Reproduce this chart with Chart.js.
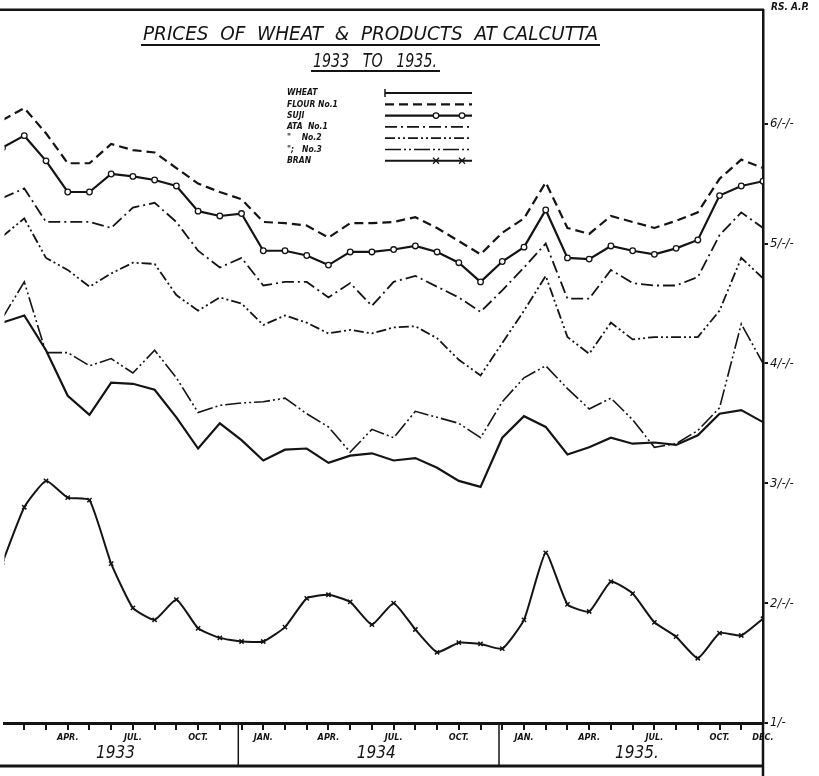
<!DOCTYPE html>
<html>
<head>
<meta charset="utf-8">
<title>Prices of Wheat &amp; Products at Calcutta</title>
<script src="https://cdn.jsdelivr.net/npm/chart.js@4.4.1/dist/chart.umd.min.js"></script>
<style>
  html, body { margin: 0; padding: 0; background: #fff; }
  #wrap { width: 819px; height: 776px; }
</style>
</head>
<body>
<div id="wrap"><canvas id="chart" width="819" height="776"></canvas></div>
<script>
// months Jan 1933 .. Dec 1935, prices in rupees
const MONTHS = [
    'JAN 1933', 'FEB 1933', 'MAR 1933', 'APR 1933', 'MAY 1933', 'JUN 1933',
    'JUL 1933', 'AUG 1933', 'SEP 1933', 'OCT 1933', 'NOV 1933', 'DEC 1933',
    'JAN 1934', 'FEB 1934', 'MAR 1934', 'APR 1934', 'MAY 1934', 'JUN 1934',
    'JUL 1934', 'AUG 1934', 'SEP 1934', 'OCT 1934', 'NOV 1934', 'DEC 1934',
    'JAN 1935', 'FEB 1935', 'MAR 1935', 'APR 1935', 'MAY 1935', 'JUN 1935',
    'JUL 1935', 'AUG 1935', 'SEP 1935', 'OCT 1935', 'NOV 1935', 'DEC 1935'
];
const TICK_LABELS = [
    '', '', '', 'APR.', '', '', 'JUL.', '', '', 'OCT.', '', '',
    'JAN.', '', '', 'APR.', '', '', 'JUL.', '', '', 'OCT.', '', '',
    'JAN.', '', '', 'APR.', '', '', 'JUL.', '', '', 'OCT.', '', 'DEC.'
];
const YEARS = ['1933', '1934', '1935.'];
const Y_VALUES = [1, 2, 3, 4, 5, 6];
const Y_LABELS = ['1/-', '2/-/-', '3/-/-', '4/-/-', '5/-/-', '6/-/-'];

const WHEAT = [4.34, 4.40, 4.11, 3.73, 3.57, 3.84, 3.83, 3.78, 3.55, 3.29, 3.50, 3.36,
               3.19, 3.28, 3.29, 3.17, 3.23, 3.25, 3.19, 3.21, 3.13, 3.02, 2.97, 3.38,
               3.56, 3.47, 3.24, 3.30, 3.38, 3.33, 3.34, 3.32, 3.40, 3.58, 3.61, 3.51];
const FLOUR_NO1 = [6.03, 6.13, 5.92, 5.67, 5.67, 5.83, 5.78, 5.76, 5.63, 5.50, 5.43, 5.37,
                   5.18, 5.17, 5.15, 5.05, 5.17, 5.17, 5.18, 5.22, 5.13, 5.02, 4.91, 5.09,
                   5.21, 5.51, 5.13, 5.08, 5.23, 5.18, 5.13, 5.19, 5.26, 5.54, 5.70, 5.63];
const SUJI = [5.80, 5.90, 5.69, 5.43, 5.43, 5.58, 5.56, 5.53, 5.48, 5.27, 5.23, 5.25,
              4.94, 4.94, 4.90, 4.82, 4.93, 4.93, 4.95, 4.98, 4.93, 4.84, 4.68, 4.85,
              4.97, 5.28, 4.88, 4.87, 4.98, 4.94, 4.91, 4.96, 5.03, 5.40, 5.48, 5.52];
const ATA_NO1 = [5.38, 5.46, 5.18, 5.18, 5.18, 5.13, 5.30, 5.34, 5.18, 4.94, 4.80, 4.88,
                 4.65, 4.68, 4.68, 4.55, 4.67, 4.48, 4.68, 4.73, 4.64, 4.55, 4.43, 4.61,
                 4.80, 5.00, 4.54, 4.54, 4.78, 4.67, 4.65, 4.65, 4.72, 5.07, 5.26, 5.13];
const ATA_NO2 = [5.06, 5.21, 4.88, 4.78, 4.64, 4.75, 4.84, 4.83, 4.57, 4.44, 4.55, 4.50,
                 4.32, 4.40, 4.34, 4.25, 4.28, 4.25, 4.30, 4.31, 4.21, 4.03, 3.90, 4.17,
                 4.44, 4.73, 4.22, 4.08, 4.34, 4.20, 4.22, 4.22, 4.22, 4.44, 4.88, 4.71];
const ATA_NO3 = [4.38, 4.68, 4.09, 4.09, 3.98, 4.04, 3.92, 4.11, 3.88, 3.59, 3.65, 3.67,
                 3.68, 3.71, 3.58, 3.47, 3.26, 3.45, 3.38, 3.60, 3.55, 3.50, 3.38, 3.68,
                 3.88, 3.98, 3.79, 3.62, 3.71, 3.53, 3.30, 3.33, 3.44, 3.63, 4.33, 4.00];
const BRAN = [2.34, 2.80, 3.02, 2.88, 2.86, 2.33, 1.96, 1.86, 2.03, 1.79, 1.71, 1.68,
              1.68, 1.80, 2.04, 2.07, 2.01, 1.82, 2.00, 1.78, 1.59, 1.67, 1.66, 1.62,
              1.86, 2.42, 1.99, 1.93, 2.18, 2.08, 1.84, 1.72, 1.54, 1.75, 1.73, 1.87];

const LEGEND_TEXT = ['WHEAT', 'FLOUR No.1', 'SUJI', 'ATA  No.1', '"    No.2', '";   No.3', 'BRAN'];

const INK = '#141414';
const FONT = "'DejaVu Sans Condensed', 'Liberation Sans Narrow', 'DejaVu Sans', sans-serif";

Chart.defaults.font.family = FONT;
Chart.defaults.color = INK;

function points(values) {
    return values.map((v, i) => ({ x: i, y: v }));
}

function seg(ctx, x1, y1, x2, y2) {
    ctx.beginPath();
    ctx.moveTo(x1, y1);
    ctx.lineTo(x2, y2);
    ctx.stroke();
}

// draw text squeezed/stretched to a given width
function fitText(ctx, text, x, y, width, font) {
    ctx.font = font;
    const w = ctx.measureText(text).width;
    ctx.save();
    ctx.translate(x, y);
    ctx.scale(width / w, 1);
    ctx.textAlign = 'left';
    ctx.textBaseline = 'alphabetic';
    ctx.fillText(text, 0, 0);
    ctx.restore();
}

function marker(ctx, style, x, y) {
    ctx.save();
    ctx.setLineDash([]);
    ctx.lineWidth = 1.3;
    if (style === 'circle') {
        ctx.fillStyle = '#fff';
        ctx.beginPath();
        ctx.arc(x, y, 2.8, 0, Math.PI * 2);
        ctx.fill();
        ctx.stroke();
    } else if (style === 'crossRot') {
        seg(ctx, x - 3, y - 3, x + 3, y + 3);
        seg(ctx, x - 3, y + 3, x + 3, y - 3);
    }
    ctx.restore();
}

const paperPlugin = {
    id: 'paper',
    beforeDraw(chart) {
        const { ctx, width, height } = chart;
        ctx.save();
        ctx.fillStyle = '#fff';
        ctx.fillRect(0, 0, width, height);
        ctx.restore();
    },
    afterDraw(chart) {
        const { ctx, chartArea: area, scales: { x } } = chart;
        ctx.save();
        ctx.strokeStyle = INK;
        ctx.fillStyle = INK;

        // frame
        ctx.lineWidth = 2.5;
        seg(ctx, 0, area.top, area.right + 1, area.top);
        ctx.lineWidth = 2.5;
        seg(ctx, area.right, area.bottom, area.right, chart.height);
        ctx.lineWidth = 3;
        seg(ctx, 0, 766, area.right, 766);

        // year separators and year names
        ctx.lineWidth = 1.5;
        YEARS.forEach((yr, k) => {
            if (k < YEARS.length - 1) {
                const sx = x.getPixelForValue(12 * k + 10.85);
                seg(ctx, sx, area.bottom, sx, 766);
            }
            const cx = x.getPixelForValue(12 * k + 5.2);
            ctx.font = 'italic 17px ' + FONT;
            ctx.textAlign = 'center';
            ctx.textBaseline = 'alphabetic';
            ctx.fillText(yr, cx, 758);
        });

        // currency unit
        ctx.font = 'italic bold 10px ' + FONT;
        ctx.textAlign = 'left';
        ctx.fillText('RS. A.P.', 771, 10);

        // title
        fitText(ctx, 'PRICES  OF  WHEAT  &  PRODUCTS  AT CALCUTTA', 143, 40, 455, 'italic 20px ' + FONT);
        ctx.lineWidth = 2;
        seg(ctx, 141, 45, 600, 45);
        fitText(ctx, '1933   TO   1935.', 313, 67, 124, 'italic 19px ' + FONT);
        seg(ctx, 311, 71, 440, 71);

        // key
        chart.data.datasets.forEach((ds, i) => {
            const y = 93 + i * 11.3;
            ctx.font = 'italic bold 8.5px ' + FONT;
            ctx.textAlign = 'left';
            ctx.textBaseline = 'middle';
            ctx.fillText(LEGEND_TEXT[i], 287, y);
            ctx.save();
            ctx.lineWidth = ds.borderWidth;
            ctx.setLineDash(ds.borderDash || []);
            seg(ctx, 385, y, 472, y);
            ctx.restore();
            if (ds.pointRadius > 0) {
                marker(ctx, ds.pointStyle, 436, y);
                marker(ctx, ds.pointStyle, 462, y);
            }
        });
        ctx.lineWidth = 1.5;
        seg(ctx, 385, 89, 385, 97);

        ctx.restore();
    }
};

const lineBase = {
    borderColor: INK,
    backgroundColor: INK,
    fill: false,
    tension: 0,
    pointRadius: 0,
    pointHoverRadius: 0,
    borderWidth: 1.8
};

const datasets = [
    { ...lineBase, label: 'WHEAT', data: points(WHEAT), borderWidth: 2.2 },
    { ...lineBase, label: 'FLOUR No.1', data: points(FLOUR_NO1), borderWidth: 2.2, borderDash: [9, 5] },
    { ...lineBase, label: 'SUJI', data: points(SUJI), borderWidth: 2.2,
      pointRadius: 2.8, pointStyle: 'circle', pointBackgroundColor: '#fff', pointBorderWidth: 1.3 },
    { ...lineBase, label: 'ATA No.1', data: points(ATA_NO1), borderDash: [12, 4, 2, 4] },
    { ...lineBase, label: 'ATA No.2', data: points(ATA_NO2), borderDash: [10, 3, 2, 3, 2, 3] },
    { ...lineBase, label: 'ATA No.3', data: points(ATA_NO3), borderWidth: 1.6, borderDash: [16, 3, 2, 3, 2, 3] },
    { ...lineBase, label: 'BRAN', data: points(BRAN), borderWidth: 2, tension: 0.15,
      pointRadius: 3, pointStyle: 'crossRot', pointBorderWidth: 1.5 }
];

new Chart(document.getElementById('chart'), {
    type: 'line',
    data: { labels: MONTHS, datasets },
    options: {
        responsive: false,
        animation: false,
        devicePixelRatio: 1,
        layout: { padding: { top: 8, left: 0, right: 0, bottom: 0 } },
        plugins: {
            legend: { display: false },
            title: { display: false },
            tooltip: { enabled: false }
        },
        scales: {
            x: {
                type: 'linear',
                min: 0.09,
                max: MONTHS.length - 1,
                afterBuildTicks: (s) => {
                    s.ticks = MONTHS.map((_, i) => ({ value: i })).filter(t => t.value >= 1);
                },
                afterFit: (s) => { s.height = 53; },
                grid: { display: true, drawOnChartArea: false, drawTicks: true, tickLength: 7, color: INK, lineWidth: 2 },
                border: { display: true, color: INK, width: 3 },
                ticks: {
                    autoSkip: false,
                    maxRotation: 0,
                    padding: 2,
                    color: INK,
                    font: { size: 9, style: 'italic', weight: 'bold' },
                    callback: (v) => TICK_LABELS[v] || ''
                }
            },
            y: {
                position: 'right',
                min: 1,
                max: 6.95,
                afterBuildTicks: (s) => { s.ticks = Y_VALUES.map(v => ({ value: v })); },
                afterFit: (s) => { s.width = 56; },
                grid: { display: true, drawOnChartArea: false, drawTicks: true, tickLength: 5, color: INK, lineWidth: 2 },
                border: { display: true, color: INK, width: 2.5 },
                ticks: {
                    padding: 2,
                    color: INK,
                    font: { size: 13, style: 'italic' },
                    callback: (v) => Y_LABELS[Y_VALUES.indexOf(v)]
                }
            }
        }
    },
    plugins: [paperPlugin]
});
</script>
</body>
</html>
